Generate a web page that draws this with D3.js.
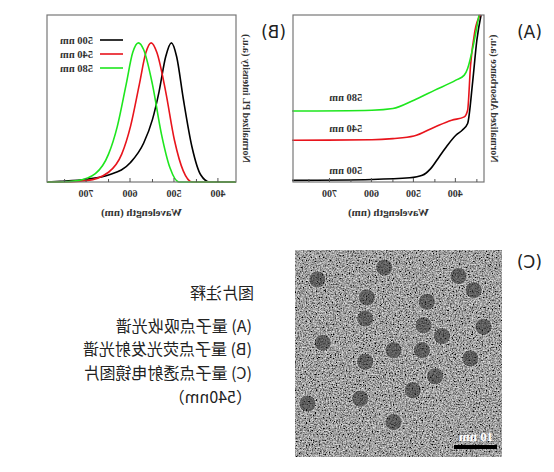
<!DOCTYPE html><html><head><meta charset="utf-8">
<script src="https://cdn.jsdelivr.net/npm/d3@7"></script>
<style>body{margin:0;background:#fff}</style></head><body>
<svg id="c" width="554" height="472"></svg>
<script>
const absTicks=[400,500,600,700];
const plTicks=[400,500,600,700];
const seriesNames=["500 nm","540 nm","580 nm"];
const colors=["#000","#e8141c","#1ee61e"];
const absBlack=[[790,1],[600,1.5],[510,2.5],[480,4],[460,8],[440,15],[420,22],[400,28],[385,31],[372,35],[360,60],[350,85],[340,100]];
const absRed=[[790,25],[600,25.3],[550,26],[500,27.5],[450,33],[410,37],[380,39],[372,43],[365,70],[355,90],[342,100]];
const absGreen=[[790,42.5],[600,43],[550,44],[500,49],[450,55],[400,61],[380,64],[372,68],[360,80],[345,100]];
const absLabelVals=[5,30,48.5];
const plBlack=[[360,0],[420,0],[440,0.05],[460,0.25],[480,0.6],[495,0.9],[507,1],[520,0.9],[535,0.65],[550,0.45],[570,0.28],[600,0.14],[650,0.05],[700,0.02],[760,0.005],[790,0]];
const plRed=[[360,0],[460,0],[480,0.08],[500,0.3],[520,0.65],[540,0.93],[553,1],[565,0.93],[580,0.7],[600,0.4],[620,0.2],[650,0.07],[700,0.01],[760,0],[790,0]];
const plGreen=[[360,0],[490,0],[510,0.1],[530,0.35],[550,0.7],[570,0.95],[582,1],[595,0.93],[610,0.7],[630,0.4],[650,0.2],[680,0.06],[720,0.01],[760,0],[790,0]];
const particleX=[10.8,43.1,34.7,33.9,63.7,79,86.3,62.1,71,91.1,13.4,47.6,61.3,33.9,84.7,67.7,56.9,31.5,6,47.6];
const particleY=[14.2,8.5,22.9,33.1,25,12.6,19.4,36.3,41.6,37.1,44.8,48.4,48.4,54,52.4,61,67.7,71.8,74.2,83.1];
const notes=["图片注释","(A) 量子点吸收光谱","(B) 量子点荧光发射光谱","(C) 量子点透射电镜图片","（540nm）"];

const svg=d3.select("#c");
const defs=svg.append("defs");
const f=defs.append("filter").attr("id","noise").attr("x",0).attr("y",0).attr("width","100%").attr("height","100%");
f.append("feTurbulence").attr("type","fractalNoise").attr("baseFrequency",0.7).attr("numOctaves",3).attr("seed",5);
f.append("feColorMatrix").attr("type","matrix").attr("values","1.3 0 0 0 -0.3  1.3 0 0 0 -0.3  1.3 0 0 0 -0.3  0 0 0 0 1");
const root=svg.append("g").attr("transform","translate(554,0) scale(-1,1)");
const serif="'Liberation Serif','DejaVu Serif',serif";

function panel(x0,x1,y0,y1,dom,ydom,data,ticks,ylab){
  const x=d3.scaleLinear().domain(dom).range([x0,x1]);
  const y=d3.scaleLinear().domain(ydom).range([y1,y0]);
  const g=root.append("g");
  const line=d3.line().x(d=>x(d[0])).y(d=>y(d[1])).curve(d3.curveMonotoneX);
  data.forEach((d,i)=>g.append("path").attr("d",line(d)).attr("fill","none").attr("stroke",colors[i]).attr("stroke-width",1.6));
  g.append("rect").attr("x",x0).attr("y",y0).attr("width",x1-x0).attr("height",y1-y0).attr("fill","none").attr("stroke","#777").attr("stroke-width",1.2);
  const ax=g.append("g").attr("transform",`translate(0,${y1})`).call(d3.axisBottom(x).tickValues(ticks).tickSize(4).tickFormat(d3.format("d")));
  ax.select(".domain").remove();
  ax.selectAll("line").attr("y2",-4).attr("stroke","#555");
  ax.selectAll("text").attr("y",8).attr("font-family",serif).attr("font-weight","bold").attr("font-size",10).attr("fill","#333");
  const mins=d3.range(350,800,100).filter(v=>v>dom[0]&&v<dom[1]);
  g.selectAll(".mn").data(mins).join("line").attr("x1",d=>x(d)).attr("x2",d=>x(d)).attr("y1",y1).attr("y2",y1-3).attr("stroke","#555");
  g.append("text").attr("x",(x0+x1)/2).attr("y",y1+34).attr("text-anchor","middle").attr("font-family",serif).attr("font-weight","bold").attr("font-size",11).attr("fill","#333").text("Wavelength (nm)");
  g.append("text").attr("transform",`translate(${x0-7},${(y0+y1)/2}) rotate(-90)`).attr("text-anchor","middle").attr("font-family",serif).attr("font-weight","bold").attr("font-size",10).attr("fill","#333").text(ylab);
  return {x,y,g};
}
const A=panel(70,261,15,182,[333,788],[0,100],[absBlack,absRed,absGreen],absTicks,"Normalized Absorbance (a.u.)");
seriesNames.forEach((t,i)=>A.g.append("text").attr("x",A.x(623)).attr("y",A.y(absLabelVals[i])).attr("font-family",serif).attr("font-weight","bold").attr("font-size",10.5).attr("fill","#333").text(t));
const B=panel(318,507,15,182,[360,790],[0,1.2],[plBlack,plRed,plGreen],plTicks,"Normalized PL intensity (a.u.)");
seriesNames.forEach((s,i)=>{const yy=40+i*14;
  B.g.append("line").attr("x1",431).attr("x2",454).attr("y1",yy).attr("y2",yy).attr("stroke",colors[i]).attr("stroke-width",1.6);
  B.g.append("text").attr("x",461).attr("y",yy+3.5).attr("font-family",serif).attr("font-weight","bold").attr("font-size",10.5).attr("fill","#333").text(s);});
[["(A)",12,38],["(B)",268,38],["(C)",12,268]].forEach(([t,x,y])=>root.append("text").attr("x",x).attr("y",y).attr("font-family","'DejaVu Sans',sans-serif").attr("font-size",17).attr("fill","#222").text(t));
const tx=d3.scaleLinear().domain([100,0]).range([52,259]);
const ty=d3.scaleLinear().domain([0,100]).range([250,457]);
const tg=root.append("g");
tg.append("rect").attr("x",52).attr("y",250).attr("width",207).attr("height",207).attr("filter","url(#noise)").attr("fill","#fff");
tg.selectAll("circle").data(particleX).join("circle").attr("cx",d=>tx(d)).attr("cy",(d,i)=>ty(particleY[i])).attr("r",8.5).attr("fill","#1e1e1e").attr("fill-opacity",0.5).attr("stroke","#e8e8e8").attr("stroke-width",1).attr("stroke-dasharray","1.5,1");
tg.append("rect").attr("x",57).attr("y",445).attr("width",43).attr("height",4).attr("fill","#000");
tg.append("text").attr("x",78).attr("y",441).attr("text-anchor","middle").attr("font-family",serif).attr("font-weight","bold").attr("font-size",13).attr("fill","#fff").text("10 nm");
notes.forEach((t,i)=>root.append("text").attr("x",i==0?300:302).attr("y",[299,332,355,379,403][i]).attr("font-family","'Noto Sans CJK SC',sans-serif").attr("font-size",16).attr("fill","#222").text(t));
</script></body></html>
